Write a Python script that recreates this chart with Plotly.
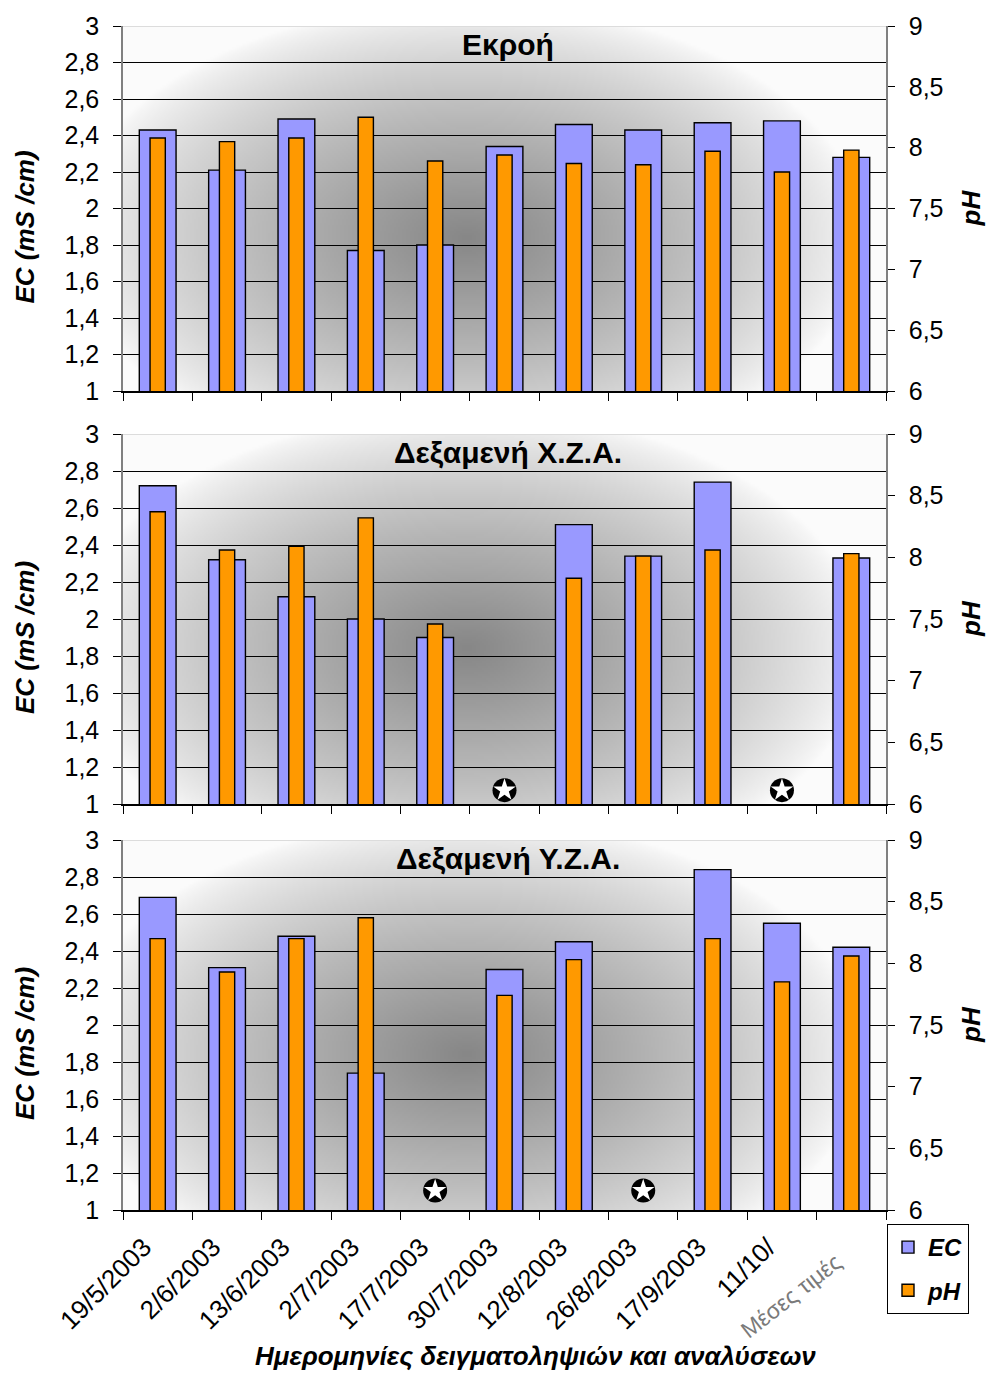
import base64
import struct
import zlib

import numpy as np
import plotly.graph_objects as go

# ---------------------------------------------------------------- data
categories = ["19/5/2003", "2/6/2003", "13/6/2003", "2/7/2003", "17/7/2003",
              "30/7/2003", "12/8/2003", "26/8/2003", "17/9/2003", "11/10/2003",
              "Μέσες τιμές"]
tick_labels = ["19/5/2003", "2/6/2003", "13/6/2003", "2/7/2003", "17/7/2003",
               "30/7/2003", "12/8/2003", "26/8/2003", "17/9/2003", "11/10/", ""]

panel_titles = ["Εκροή", "Δεξαμενή Χ.Ζ.Α.", "Δεξαμενή Υ.Ζ.Α."]

ec_ekroi = [2.43, 2.21, 2.49, 1.77, 1.80, 2.34, 2.46, 2.43, 2.47, 2.48, 2.28]
ph_ekroi = [8.08, 8.05, 8.08, 8.25, 7.89, 7.94, 7.87, 7.86, 7.97, 7.80, 7.98]

ec_xza = [2.72, 2.32, 2.12, 2.00, 1.90, None, 2.51, 2.34, 2.74, None, 2.33]
ph_xza = [8.37, 8.06, 8.09, 8.32, 7.46, None, 7.83, 8.01, 8.06, None, 8.03]

ec_yza = [2.69, 2.31, 2.48, 1.74, None, 2.30, 2.45, None, 2.84, 2.55, 2.42]
ph_yza = [8.20, 7.93, 8.20, 8.37, None, 7.74, 8.03, None, 8.20, 7.85, 8.06]

ec_ticks = [1, 1.2, 1.4, 1.6, 1.8, 2, 2.2, 2.4, 2.6, 2.8, 3]
ph_ticks = [6, 6.5, 7, 7.5, 8, 8.5, 9]

# ---------------------------------------------------------------- style
W, H = 990, 1373
X0, X1 = 123, 886                                  # plot area, px
PANELS = [(26, 391), (434, 804), (840, 1210)]      # top / bottom, px
EC_COLOR = "#9999FF"
PH_COLOR = "#FF9900"
FONT = "Liberation Sans"
STAR_LEVEL = [1.075, 1.075, 1.105]                 # EC level of "no sample" marks


def comma(v):
    return f"{v:g}".replace(".", ",")


def gray_png(arr):
    """Encode a 2-D uint8 array as a grayscale PNG data URI."""
    h, w = arr.shape
    raw = b"".join(b"\x00" + arr[i].tobytes() for i in range(h))

    def chunk(tag, data):
        body = tag + data
        return (struct.pack(">I", len(data)) + body
                + struct.pack(">I", zlib.crc32(body) & 0xFFFFFFFF))

    png = (b"\x89PNG\r\n\x1a\n"
           + chunk(b"IHDR", struct.pack(">IIBBBBB", w, h, 8, 0, 0, 0, 0))
           + chunk(b"IDAT", zlib.compress(raw, 9))
           + chunk(b"IEND", b""))
    return "data:image/png;base64," + base64.b64encode(png).decode()


def centre_shade(cx=0.45, cy=0.58, rx=0.52, ry=0.64, w=382, h=183):
    xs = (np.arange(w) + 0.5) / w
    ys = (np.arange(h) + 0.5) / h
    dx = (xs[None, :] - cx) / rx
    dy = (ys[:, None] - cy) / ry
    v = np.clip(1.0 - np.sqrt(dx ** 2 + dy ** 2), 0.0, 1.0)
    v = v ** 0.78
    g = 251.0 - 116.0 * v
    return gray_png(np.clip(g, 0, 255).astype(np.uint8))


SHADE = centre_shade()

datasets = [(ec_ekroi, ph_ekroi), (ec_xza, ph_xza), (ec_yza, ph_yza)]

fig = go.Figure()
layout = dict(
    width=W, height=H,
    margin=dict(l=0, r=0, t=0, b=0, autoexpand=False),
    paper_bgcolor="white",
    plot_bgcolor="rgba(0,0,0,0)",
    barmode="overlay",
    font=dict(family=FONT, color="#000"),
    showlegend=True,
    legend=dict(
        x=887 / W, y=1 - 1224 / H, xanchor="left", yanchor="top",
        bgcolor="white", bordercolor="#000", borderwidth=1,
        font=dict(family=FONT, size=24, weight="bold", style="italic"),
        tracegroupgap=9, itemwidth=30,
    ),
    images=[], shapes=[], annotations=[],
)

for k, ((ec, ph), (top, bot)) in enumerate(zip(datasets, PANELS)):
    xa = "x" if k == 0 else f"x{k + 1}"
    ya_ec, ya_ph, ya_tk = f"y{3 * k + 1}", f"y{3 * k + 2}", f"y{3 * k + 3}"
    ya_ec = "y" if k == 0 else ya_ec
    dom_y = [1 - bot / H, 1 - top / H]
    xkey = "xaxis" if k == 0 else f"xaxis{k + 1}"

    def ykey(name):
        return "yaxis" if name == "y" else "yaxis" + name[1:]

    layout[xkey] = dict(
        domain=[X0 / W, X1 / W], anchor=ya_ec, type="category",
        categoryorder="array", categoryarray=categories,
        range=[-0.5, len(categories) - 0.5],
        tickmode="array", tickvals=categories, ticktext=tick_labels,
        tickson="boundaries", ticks="outside", ticklen=8, tickcolor="#000",
        showline=True, linecolor="#000", linewidth=1.5,
        showgrid=False, zeroline=False, automargin=False,
        showticklabels=(k == 2), tickangle=-45,
        ticklabelshift=-14, ticklabelstandoff=10,
        tickfont=dict(family=FONT, size=26, color="#000"),
    )
    layout[ykey(ya_ec)] = dict(
        domain=dom_y, anchor=xa, range=[1, 3],
        tickmode="array", tickvals=ec_ticks,
        ticktext=[comma(v) for v in ec_ticks],
        ticks="outside", ticklen=8, tickcolor="#000",
        showline=True, linecolor="#808080", linewidth=1.5,
        showgrid=True, gridcolor="#000", gridwidth=1, zeroline=False,
        automargin=False,
        tickfont=dict(family=FONT, size=25, color="#000"),
        ticklabelstandoff=9,
    )
    layout[ykey(ya_ph)] = dict(
        overlaying=ya_ec, anchor=xa, side="right", range=[6, 9],
        tickmode="array", tickvals=ph_ticks,
        ticktext=[comma(v) for v in ph_ticks],
        ticks="outside", ticklen=7, tickcolor="#000",
        showline=True, linecolor="#808080", linewidth=1.5,
        showgrid=False, zeroline=False, automargin=False,
        tickfont=dict(family=FONT, size=25, color="#000"),
        ticklabelstandoff=9,
    )
    layout[ykey(ya_tk)] = dict(
        overlaying=ya_ec, anchor=xa, side="right", range=[6, 9],
        tickmode="array", tickvals=ph_ticks,
        ticks="inside", ticklen=10, tickcolor="#000", automargin=False,
        showticklabels=False, showline=False, showgrid=False, zeroline=False,
    )

    fig.add_trace(go.Bar(
        x=categories, y=ec, xaxis=xa, yaxis=ya_ec, width=0.53,
        marker=dict(color=EC_COLOR, line=dict(color="#000", width=1.4)),
        name="EC", legendgroup="EC", showlegend=(k == 0), hoverinfo="x+y",
    ))
    fig.add_trace(go.Bar(
        x=categories, y=ph, xaxis=xa, yaxis=ya_ph, width=0.22,
        marker=dict(color=PH_COLOR, line=dict(color="#000", width=1.4)),
        name="pH", legendgroup="pH", showlegend=(k == 0), hoverinfo="x+y",
    ))

    # circled star where no sample was taken
    missing = [c for c, v in zip(categories, ec) if v is None]
    if missing:
        fig.add_trace(go.Scatter(
            x=missing, y=[STAR_LEVEL[k]] * len(missing), xaxis=xa, yaxis=ya_ec,
            mode="markers", showlegend=False, hoverinfo="skip",
            marker=dict(symbol="circle", size=24, color="#000"),
        ))
        fig.add_trace(go.Scatter(
            x=missing, y=[STAR_LEVEL[k]] * len(missing), xaxis=xa, yaxis=ya_ec,
            mode="markers", showlegend=False, hoverinfo="skip",
            marker=dict(symbol="star", size=17, color="#fff", line=dict(width=0)),
        ))

    # radial grey fill of the plot area
    layout["images"].append(dict(
        source=SHADE, xref="paper", yref="paper",
        x=X0 / W, y=1 - top / H, sizex=(X1 - X0) / W, sizey=(bot - top) / H,
        xanchor="left", yanchor="top", sizing="stretch", layer="below",
    ))
    # light top border of the plot area
    layout["shapes"].append(dict(
        type="line", xref=f"{xa} domain", yref=ya_ec,
        x0=0, x1=1, y0=3, y1=3, layer="above",
        line=dict(color="#dcdcdc", width=2),
    ))

    layout["annotations"] += [
        dict(text=panel_titles[k], xref="paper", yref="paper",
             x=508 / W, y=1 - (top + 18) / H, xanchor="center", yanchor="middle",
             showarrow=False,
             font=dict(family=FONT, size=30, weight="bold", color="#000")),
        dict(text="EC (mS /cm)", xref="paper", yref="paper",
             x=25 / W, y=1 - ((top + bot) / 2 + 19) / H,
             xanchor="center", yanchor="middle", textangle=-90, showarrow=False,
             font=dict(family=FONT, size=26, weight="bold", style="italic",
                       color="#000")),
        dict(text="pH", xref="paper", yref="paper",
             x=971 / W, y=1 - (top + bot) / 2 / H,
             xanchor="center", yanchor="middle", textangle=-90, showarrow=False,
             font=dict(family=FONT, size=26, weight="bold", style="italic",
                       color="#000")),
    ]

layout["annotations"] += [
    dict(text="Μέσες τιμές", xref="paper", yref="paper",
         x=791 / W, y=1 - 1296 / H, xanchor="center", yanchor="middle",
         textangle=-38, showarrow=False,
         font=dict(family=FONT, size=23, color="#7a7a7a")),
    dict(text="Ημερομηνίες δειγματοληψιών και αναλύσεων",
         xref="paper", yref="paper", x=535 / W, y=1 - 1356 / H,
         xanchor="center", yanchor="middle", showarrow=False,
         font=dict(family=FONT, size=26, weight="bold", style="italic",
                   color="#000")),
]

fig.update_layout(**layout)
fig.write_html("out.html")
